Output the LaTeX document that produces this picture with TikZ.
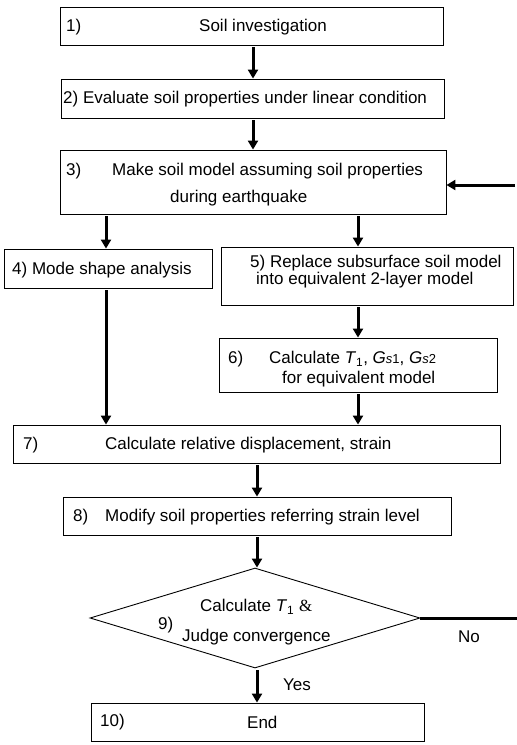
\documentclass[tikz,border=0pt]{standalone}
\usepackage{fontspec}
\setmainfont{Liberation Sans}
\newfontfamily\ampfont{Liberation Serif}
\usetikzlibrary{arrows.meta}
\usetikzlibrary{shapes.geometric}

\newcommand{\smallsub}[1]{{\fontsize{13}{15}\selectfont #1}}

\begin{document}
\begin{tikzpicture}[x=1pt,y=-1pt,font=\fontsize{17}{20}\selectfont,
	stepbox/.style={draw, line width=0.9pt, inner sep=0pt},
	txt/.style={inner sep=0pt, anchor=west},
	flow/.style={line width=3pt, -{Triangle[length=9pt,width=10pt]}, shorten <=2pt}]
	\useasboundingbox (0,0) rectangle (517,745);
	% boxes
	\node[stepbox, minimum width=383pt, minimum height=38pt] (b1) at (251.5,26) {};
	\node[stepbox, minimum width=383pt, minimum height=39pt] (b2) at (252.5,98.5) {};
	\node[stepbox, minimum width=386pt, minimum height=64pt] (b3) at (253,182) {};
	\node[stepbox, minimum width=208pt, minimum height=39pt] (b4) at (108,268.5) {};
	\node[stepbox, minimum width=292pt, minimum height=58pt] (b5) at (367,276) {};
	\node[stepbox, minimum width=278pt, minimum height=54pt] (b6) at (358,365) {};
	\node[stepbox, minimum width=487pt, minimum height=38pt] (b7) at (256.5,444) {};
	\node[stepbox, minimum width=388pt, minimum height=38pt] (b8) at (257,516) {};
	\node[stepbox, diamond, minimum width=330pt, minimum height=100pt] (d9) at (255,618) {};
	\node[stepbox, minimum width=333pt, minimum height=38pt] (b10) at (257.5,722) {};
	% texts
	\node[txt] (n1) at (66,27) {1)};
	\node[txt] (t1) at (199,27) {Soil investigation};
	\node[txt] (t2) at (63,99) {2) Evaluate soil properties under linear condition};
	\node[txt] (n3) at (66,171) {3)};
	\node[txt] (t3a) at (112,171) {Make soil model assuming soil properties};
	\node[txt] (t3b) at (170,198) {during earthquake};
	\node[txt] (t4) at (12,270) {4) Mode shape analysis};
	\node[txt] (t5a) at (250,263) {5) Replace subsurface soil model};
	\node[txt] (t5b) at (256,280) {into equivalent 2-layer model};
	\node[txt] (n6) at (228,359) {6)};
	\node[txt] (t6a) at (269,359) {Calculate \textit{T}\textsubscript{1}, \textit{G}\smallsub{\textit{s}1}, \textit{G}\smallsub{\textit{s}2}};
	\node[txt] (t6b) at (282,379) {for equivalent model};
	\node[txt] (n7) at (23,445) {7)};
	\node[txt] (t7) at (105,445) {Calculate relative displacement, strain};
	\node[txt] (n8) at (73,517) {8)};
	\node[txt] (t8) at (105,517) {Modify soil properties referring strain level};
	\node[txt] (t9a) at (200,607) {Calculate \textit{T}\textsubscript{1} {\ampfont\&}};
	\node[txt] (n9) at (158,625) {9)};
	\node[txt] (t9b) at (182,637) {Judge convergence};
	\node[txt] (no) at (458,637) {No};
	\node[txt] (yes) at (283,685) {Yes};
	\node[txt] (n10) at (100,722) {10)};
	\node[txt] (t10) at (247,722) {End};
	% connectors
	\coordinate (back) at (517,185);
	\coordinate (noend) at (517,618);
	\draw[flow] (b1.south -| 253,0) -- (b2.north -| 253,0);
	\draw[flow] (b2.south -| 253,0) -- (b3.north -| 253,0);
	\draw[flow] (back) -- (back -| b3.east);
	\draw[flow] (b3.south -| 106,0) -- (b4.north -| 106,0);
	\draw[flow] (b3.south -| b6.north) -- (b5.north -| b6.north);
	\draw[flow] (b5.south -| b6.north) -- (b6.north);
	\draw[flow] (b4.south -| 106,0) -- (b7.north -| 106,0);
	\draw[flow] (b6.south) -- (b7.north -| b6.south);
	\draw[flow] (b7.south -| b8.north) -- (b8.north);
	\draw[flow] (b8.south) -- (d9.north -| b8.south);
	\draw[flow] (d9.south -| b8.south) -- (b10.north -| b8.south);
	\draw[line width=3pt] (d9.east) -- (noend);
\end{tikzpicture}
\end{document}
